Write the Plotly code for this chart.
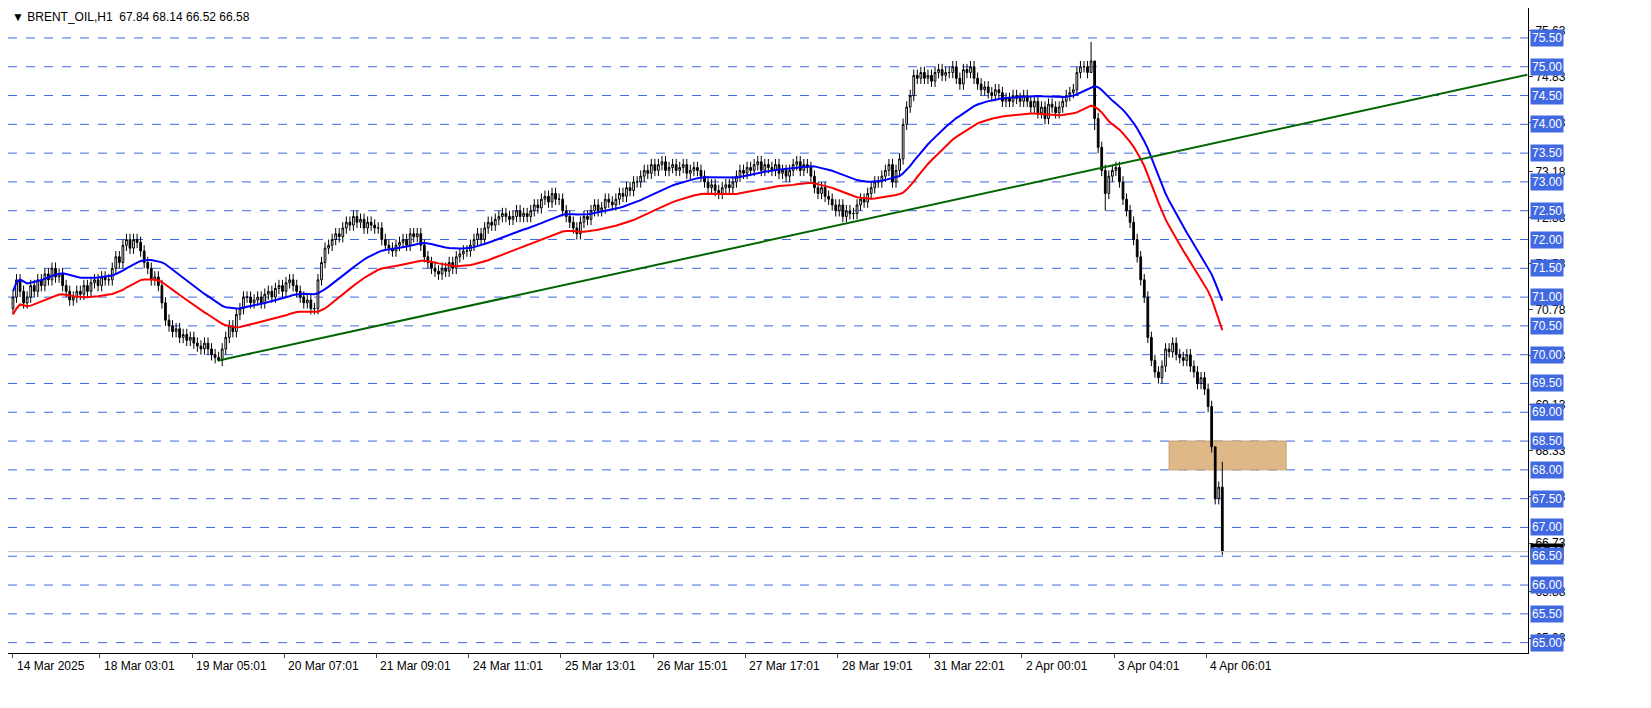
import numpy as np
import pandas as pd
import plotly.graph_objects as go

# hourly closes
closes = [
    71.0, 71.3, 71.1, 70.9, 71.0, 71.2, 71.1, 71.3, 71.2, 71.4, 71.3, 71.5, 71.35, 71.4,
    71.2, 71.1, 70.95, 71.0, 71.1, 71.05, 71.2, 71.1, 71.25, 71.3, 71.2, 71.35, 71.3, 71.3,
    71.5, 71.7, 71.6, 71.9, 72.0, 71.85, 72.0, 71.95, 71.8, 71.6, 71.5, 71.3, 71.35, 71.2,
    70.9, 70.6, 70.5, 70.4, 70.45, 70.3, 70.35, 70.25, 70.3, 70.2, 70.15, 70.1, 70.2, 70.1, 70.0, 69.95, 69.9,
    70.1, 70.3, 70.5, 70.4, 70.7, 70.8, 71.0, 71.0,
    70.9, 70.95, 71.0, 70.9, 71.05, 71.1, 71.0, 71.15, 71.2, 71.1, 71.25, 71.3, 71.2, 71.1,
    71.0, 70.9, 70.95, 70.8, 70.8, 71.3, 71.6, 71.85,
    71.9, 72.0, 72.1, 72.05, 72.2, 72.3, 72.25, 72.4,
    72.3, 72.35, 72.2, 72.3, 72.25, 72.2, 72.2, 72.0, 71.9, 71.85, 71.8,
    71.9, 71.95, 72.0, 71.9, 72.1, 72.05, 72.1,
    71.9, 71.7, 71.6, 71.5, 71.45, 71.4,
    71.5, 71.45, 71.6, 71.5, 71.7, 71.75, 71.8, 71.8,
    71.9, 72.0, 72.1, 72.0, 72.2, 72.3, 72.25, 72.35, 72.4,
    72.45, 72.4, 72.35, 72.4, 72.5, 72.4, 72.45, 72.4,
    72.5, 72.6, 72.55, 72.7, 72.75, 72.65, 72.8, 72.7, 72.7,
    72.5, 72.4, 72.3, 72.2, 72.1,
    72.3, 72.4, 72.35, 72.5, 72.6, 72.5, 72.55, 72.7, 72.65,
    72.6, 72.7, 72.8, 72.75, 72.9, 72.85, 73.0, 73.0,
    73.1, 73.2, 73.15, 73.3, 73.2, 73.3, 73.35, 73.2, 73.25,
    73.3, 73.2, 73.25, 73.3, 73.15, 73.2, 73.25, 73.2,
    73.1, 73.0, 72.9, 72.95, 72.85, 72.8, 72.9, 72.95, 72.9,
    73.0, 73.1, 73.2, 73.15, 73.25, 73.2, 73.3, 73.35, 73.2, 73.3, 73.25,
    73.2, 73.3, 73.15, 73.2, 73.1, 73.2, 73.3, 73.35, 73.2, 73.3, 73.25,
    73.1, 72.9, 72.8, 72.9, 72.75, 72.7,
    72.6, 72.5, 72.6, 72.4, 72.5, 72.45, 72.45,
    72.6, 72.7, 72.65, 72.8, 72.9, 73.0, 73.0,
    73.1, 73.2, 73.3, 73.0, 73.2, 73.4,
    74.0, 74.3, 74.5, 74.85, 74.8,
    74.9, 74.8, 74.85, 74.75, 74.9, 74.95, 74.85, 74.9, 74.9,
    75.0, 74.8, 74.7, 74.95, 74.9,
    75.0, 74.8, 74.7, 74.6, 74.65, 74.55, 74.5, 74.6, 74.55,
    74.4, 74.45, 74.4, 74.5, 74.45, 74.4, 74.5, 74.4,
    74.3, 74.4, 74.2, 74.3, 74.1, 74.35, 74.3,
    74.2, 74.3, 74.4, 74.5, 74.55, 74.6,
    74.9, 75.0, 75.0, 74.9, 75.1, 74.1,
    73.6, 73.2, 72.8, 73.1, 73.2,
    73.25, 73.0, 72.7, 72.5, 72.3, 72.0,
    71.7, 71.3, 71.0, 70.3, 69.9, 69.7, 69.6,
    69.8, 70.1, 70.05, 70.2, 70.0, 69.95, 69.9,
    70.0, 69.8, 69.7, 69.5, 69.6, 69.4, 69.1,
    68.4, 67.5, 67.7, 66.58,
]
first_open = 70.8
wick = 0.1
# notable wick extremes: bar index -> (high, low)
extremes = {304: (75.43, 74.9), 305: (75.1, 73.9), 308: (73.3, 72.5),
            58: (70.05, 69.88), 341: (68.14, 66.52), 339: (68.4, 67.4)}

x_labels = ["14 Mar 2025", "18 Mar 03:01", "19 Mar 05:01", "20 Mar 07:01", "21 Mar 09:01",
            "24 Mar 11:01", "25 Mar 13:01", "26 Mar 15:01", "27 Mar 17:01", "28 Mar 19:01",
            "31 Mar 22:01", "2 Apr 00:01", "3 Apr 04:01", "4 Apr 06:01"]
grid_levels = [65.0, 65.5, 66.0, 66.5, 67.0, 67.5, 68.0, 68.5, 69.0, 69.5, 70.0, 70.5,
               71.0, 71.5, 72.0, 72.5, 73.0, 73.5, 74.0, 74.5, 75.0, 75.5]
axis_ticks = [65.08, 65.88, 66.73, 67.53, 68.33, 69.13, 69.98, 70.78, 71.58, 72.38,
              73.18, 74.03, 74.83, 75.63]
trend_start = (58, 69.9)
trend_end = (427, 74.86)
zone = (326, 359, 68.0, 68.5)

c = np.array(closes)
o = np.concatenate([[first_open], c[:-1]])
h = np.maximum(o, c) + wick
l = np.minimum(o, c) - wick
for i, (hi, lo) in extremes.items():
    if i < len(c):
        h[i], l[i] = hi, lo
idx = np.arange(len(c))
ma_blue = pd.Series(h).ewm(span=40).mean()
ma_red = pd.Series(l).ewm(span=40).mean()

fig = go.Figure()
for lv in grid_levels:
    fig.add_shape(type="line", xref="paper", x0=0, x1=1, y0=lv, y1=lv,
                  line=dict(color="#4169e1", width=1, dash="dash"), layer="below")
fig.add_shape(type="rect", x0=zone[0], x1=zone[1], y0=zone[2], y1=zone[3],
              fillcolor="#deb887", line=dict(color="#c8a070", width=1), layer="below")
fig.add_shape(type="line", xref="paper", x0=0, x1=1, y0=c[-1], y1=c[-1],
              line=dict(color="#c0c0c0", width=1))

fig.add_trace(go.Candlestick(
    x=idx, open=o, high=h, low=l, close=c, whiskerwidth=0,
    increasing=dict(fillcolor="white", line=dict(color="black", width=1)),
    decreasing=dict(fillcolor="black", line=dict(color="black", width=1)),
    showlegend=False))
fig.add_trace(go.Scatter(x=idx, y=ma_blue, mode="lines", line=dict(color="#0000ff", width=2),
                         showlegend=False))
fig.add_trace(go.Scatter(x=idx, y=ma_red, mode="lines", line=dict(color="#ff0000", width=2),
                         showlegend=False))
fig.add_trace(go.Scatter(x=[trend_start[0], trend_end[0]], y=[trend_start[1], trend_end[1]],
                         mode="lines", line=dict(color="#006400", width=2), showlegend=False))

# last price box first, so the level boxes sit over it as in the terminal
fig.add_annotation(xref="paper", x=1.0, y=c[-1], text=f"{c[-1]:.2f}", showarrow=False,
                   xanchor="left", xshift=2, bgcolor="black",
                   font=dict(color="white", size=12, family="Liberation Sans"))
for lv in grid_levels:
    fig.add_annotation(xref="paper", x=1.0, y=lv, text=f"{lv:.2f}", showarrow=False,
                       xanchor="left", yanchor="middle", xshift=2, bgcolor="#4169e1",
                       font=dict(color="white", size=12, family="Liberation Sans"))
# time labels, left-aligned at their ticks
for k, lab in enumerate(x_labels):
    xi = 0 if k == 0 else 24.5 + 26 * (k - 1)
    fig.add_annotation(x=xi, yref="paper", y=0, text=lab, showarrow=False,
                       xanchor="left", yanchor="top", yshift=-4, xshift=2,
                       font=dict(color="black", size=12, family="Liberation Sans"))
fig.add_annotation(xref="paper", yref="paper", x=0, y=1, text="▼ BRENT_OIL,H1  67.84 68.14 66.52 66.58",
                   showarrow=False, xanchor="left", yanchor="top", xshift=2,
                   font=dict(color="black", size=12, family="Liberation Sans"))

fig.update_layout(
    width=1651, height=708, margin=dict(l=0, r=131, t=0, b=63),
    paper_bgcolor="white", plot_bgcolor="white",
    xaxis=dict(range=[-1.4, 427.2], rangeslider=dict(visible=False), showgrid=False,
               showticklabels=False, zeroline=False, showline=True, linecolor="black",
               ticks="outside", tickvals=[0] + [24.5 + 26 * k for k in range(13)], ticklen=4),
    yaxis=dict(range=[64.82, 76.02], side="right", showgrid=False, zeroline=False,
               showline=True, linecolor="black", tickvals=axis_ticks,
               ticktext=[f"{v:.2f}" for v in axis_ticks], ticks="outside", ticklen=4,
               tickfont=dict(color="black", size=12, family="Liberation Sans")),
)
fig.write_html("out.html")
